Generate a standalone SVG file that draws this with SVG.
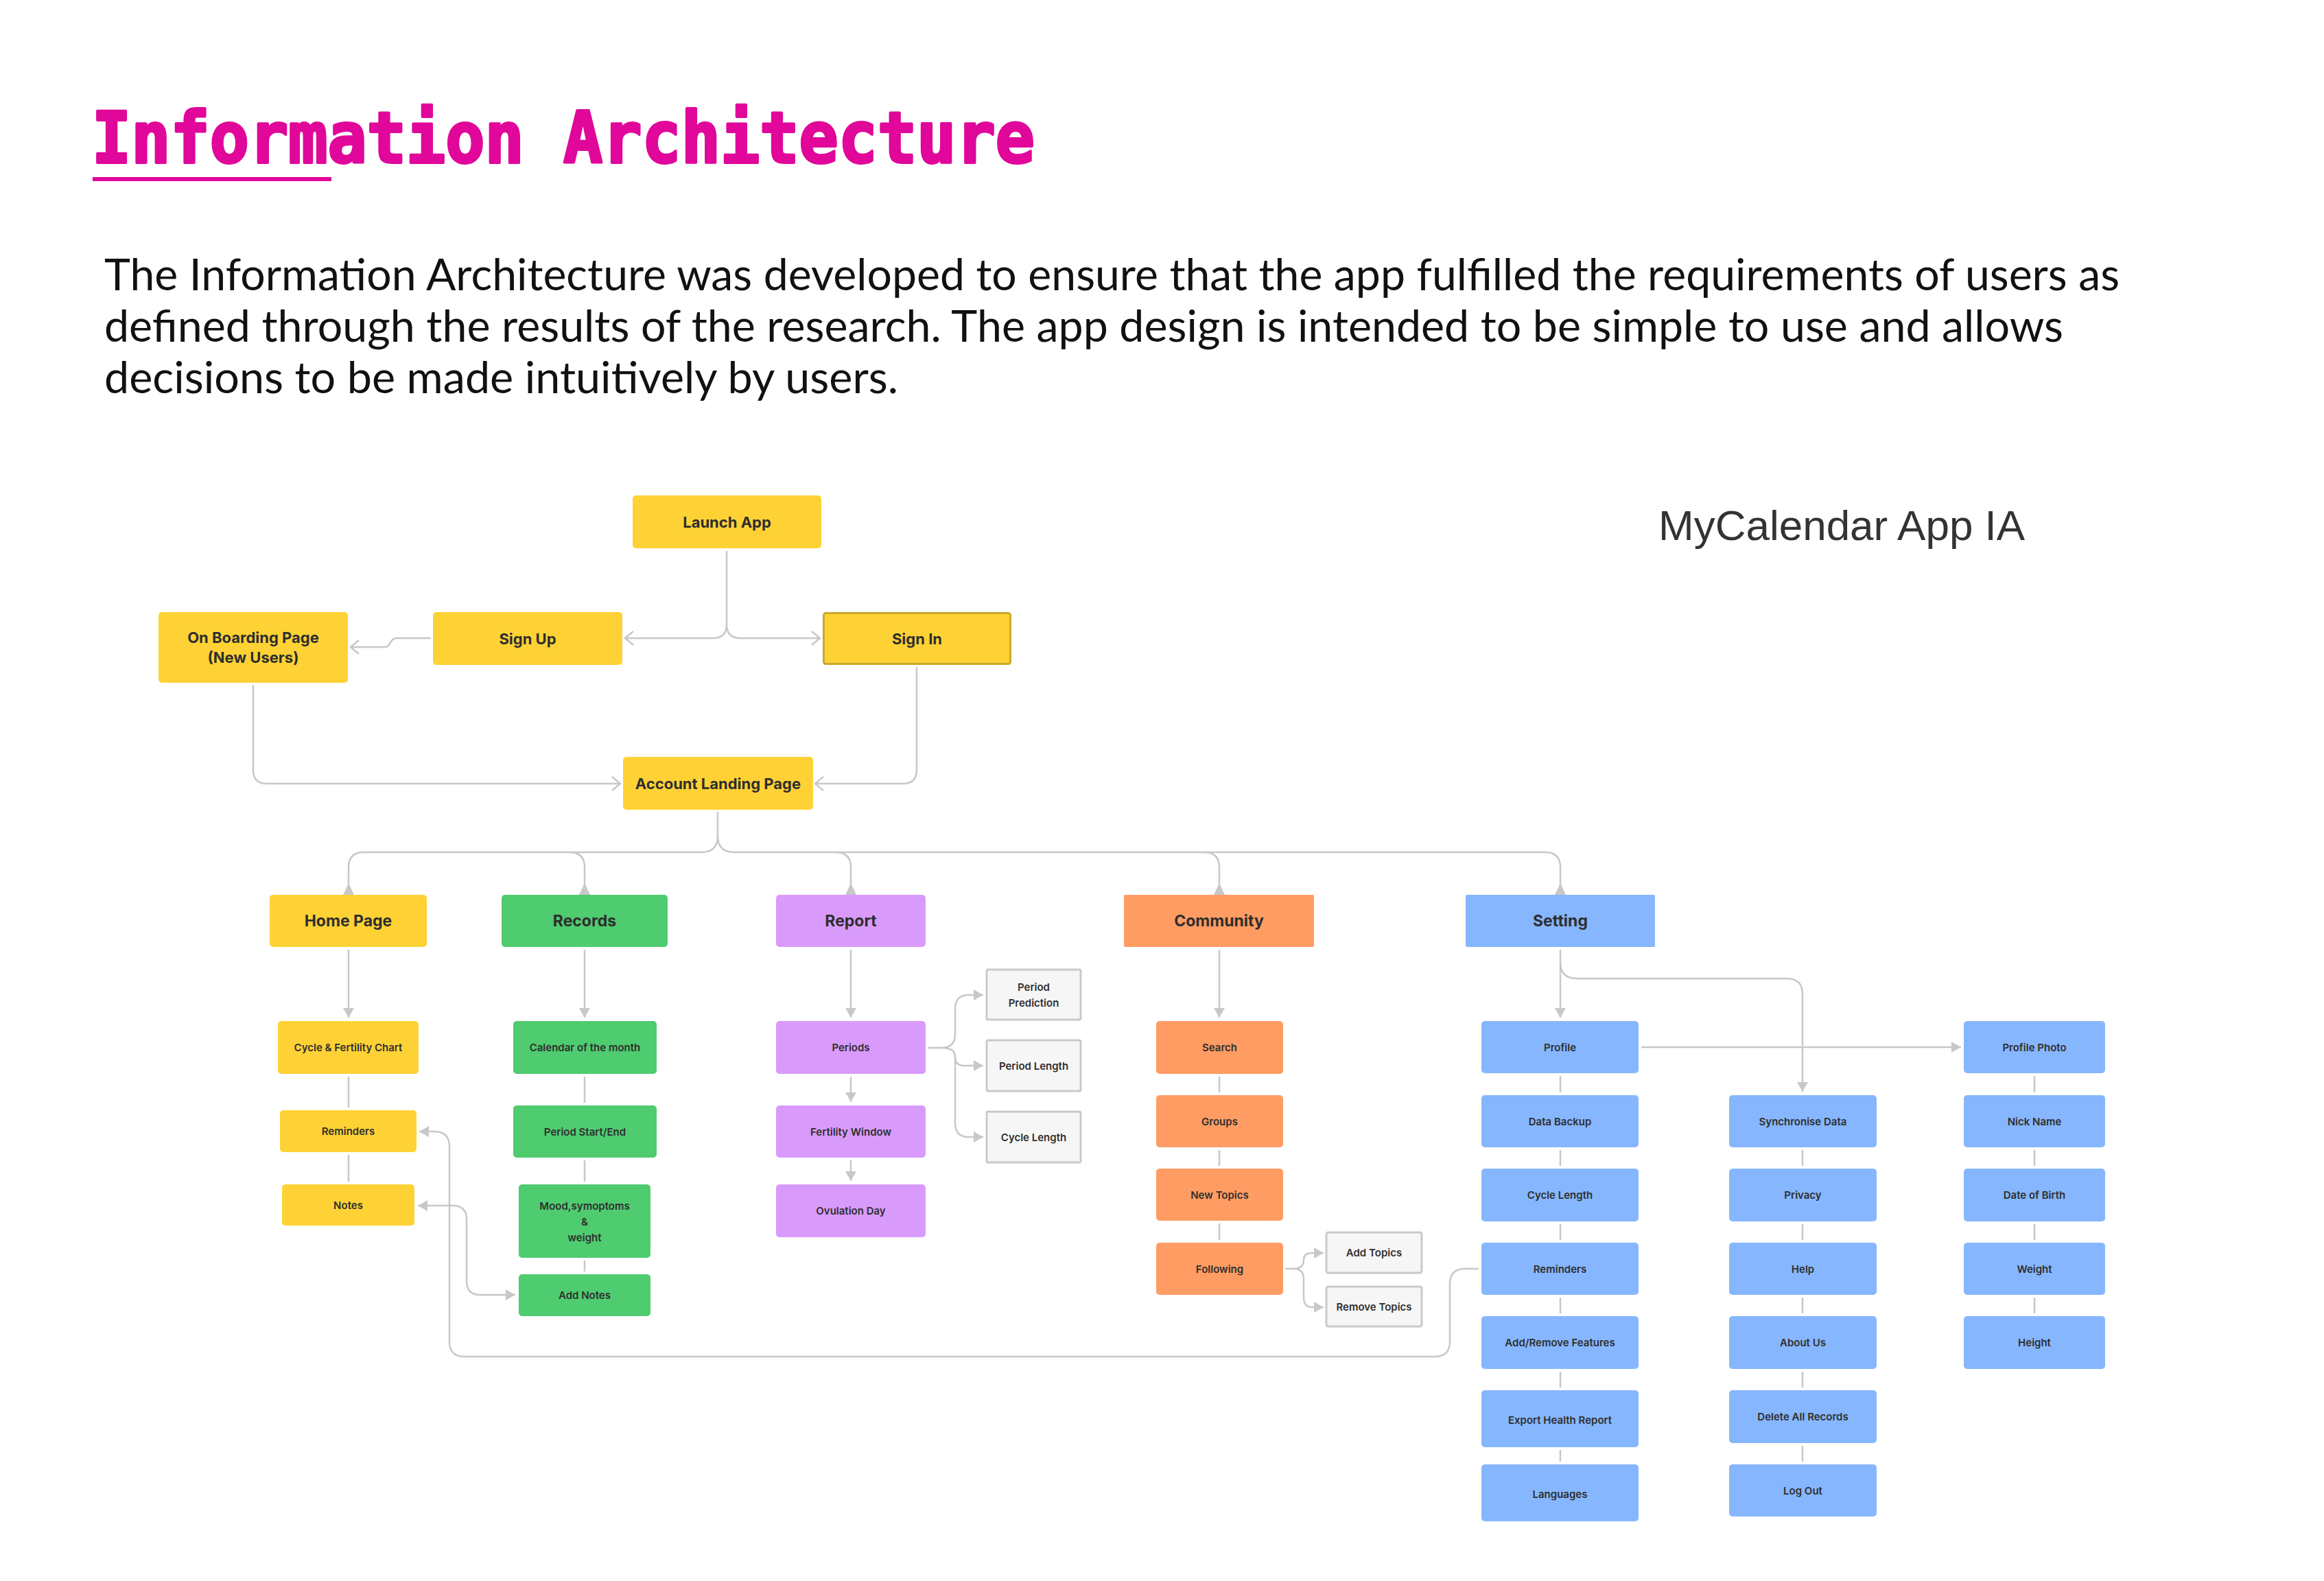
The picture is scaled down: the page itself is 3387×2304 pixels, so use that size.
<svg xmlns="http://www.w3.org/2000/svg" width="3387" height="2304" viewBox="0 0 3387 2304">
<defs>
<style>
.y{fill:#FED235}.g{fill:#4FCB70}.p{fill:#D99BFB}.o{fill:#FF9C63}.b{fill:#86B6FD}.w{fill:#F6F6F6;stroke:#C9C9C9;stroke-width:3}
.si{fill:#FED235;stroke:#C9A92D;stroke-width:3}
.t{font-family:Inter,"Liberation Sans",sans-serif;fill:#2E2E2E;text-anchor:middle;dominant-baseline:central}
.lg{font-size:23px;font-weight:700}.md{font-size:22px;font-weight:700}.sm{font-size:15px;font-weight:600}
.c{fill:none;stroke:#C8C8C8;stroke-width:2.5}
.ah{fill:#C8C8C8}
</style>
<marker id="tri" viewBox="0 0 14 16" refX="14" refY="8" markerWidth="14" markerHeight="16" markerUnits="userSpaceOnUse" orient="auto-start-reverse"><path d="M0,0 L14,8 L0,16 Z" fill="#C8C8C8"/></marker>
<marker id="chev" viewBox="-2 -2 16 24" refX="12" refY="10" markerWidth="16" markerHeight="24" markerUnits="userSpaceOnUse" orient="auto"><path d="M0,0 L12,10 L0,20" fill="none" stroke="#C8C8C8" stroke-width="2.5"/></marker>
</defs>
<rect width="3387" height="2304" fill="#FFFFFF"/>

<g id="header">
<text x="134" y="237" font-family="'DejaVu Sans Mono',monospace" font-weight="700" font-size="103" fill="#E0079A" stroke="#E0079A" stroke-width="4" stroke-linejoin="round" textLength="1374" lengthAdjust="spacingAndGlyphs">Information Architecture</text>
<rect x="135" y="258" width="348" height="6" fill="#E0079A"/>
<g font-family="Lato,'Noto Sans',sans-serif" font-size="64" fill="#111111">
<text x="152" y="423" textLength="2937" lengthAdjust="spacingAndGlyphs">The Information Architecture was developed to ensure that the app fulfilled the requirements of users as</text>
<text x="152" y="498" textLength="2855" lengthAdjust="spacingAndGlyphs">defined through the results of the research. The app design is intended to be simple to use and allows</text>
<text x="152" y="573" textLength="1157" lengthAdjust="spacingAndGlyphs">decisions to be made intuitively by users.</text>
</g>
<text x="2417" y="787" font-family="'Liberation Sans',Arial,sans-serif" font-size="62" fill="#333333">MyCalendar App IA</text>
</g>

<g id="connectors">
<path class="c" marker-end="url(#chev)" d="M1059 803 V910 Q1059 930 1039 930 H911"/>
<path class="c" marker-end="url(#chev)" d="M1059 910 Q1059 930 1079 930 H1195"/>
<path class="c" marker-end="url(#chev)" d="M628 930 H578 C568 930 570 943 560 943 H511"/>
<path class="c" marker-end="url(#chev)" d="M369 998 V1122 Q369 1142 389 1142 H904"/>
<path class="c" marker-end="url(#chev)" d="M1336 972 V1122 Q1336 1142 1316 1142 H1188"/>

<path class="c" d="M1046 1183 V1218 Q1046 1242 1022 1242 H530 Q508 1242 508 1264 V1292"/>
<path class="c" d="M1046 1218 Q1046 1242 1070 1242 H2252 Q2274 1242 2274 1264 V1292"/>
<path class="c" d="M830 1242 Q852 1242 852 1264 V1292"/>
<path class="c" d="M1218 1242 Q1240 1242 1240 1264 V1292"/>
<path class="c" d="M1755 1242 Q1777 1242 1777 1264 V1292"/>
<polygon class="ah" points="500,1304 516,1304 508,1287"/>
<polygon class="ah" points="844,1304 860,1304 852,1287"/>
<polygon class="ah" points="1232,1304 1248,1304 1240,1287"/>
<polygon class="ah" points="1769,1304 1785,1304 1777,1287"/>
<polygon class="ah" points="2266,1304 2282,1304 2274,1287"/>

<path class="c" marker-end="url(#tri)" d="M508 1384 V1483"/>
<path class="c" marker-end="url(#tri)" d="M852 1384 V1483"/>
<path class="c" marker-end="url(#tri)" d="M1240 1384 V1483"/>
<path class="c" marker-end="url(#tri)" d="M1240 1569 V1606"/>
<path class="c" marker-end="url(#tri)" d="M1240 1691 V1721"/>
<path class="c" marker-end="url(#tri)" d="M1777 1384 V1483"/>
<path class="c" marker-end="url(#tri)" d="M2274 1384 V1483"/>
<path class="c" marker-end="url(#tri)" d="M2274 1402 Q2274 1426 2298 1426 H2604 Q2627 1426 2627 1449 V1591"/>
<path class="c" marker-end="url(#tri)" d="M2392 1526 H2858"/>

<path class="c" marker-end="url(#tri)" d="M1352 1527 H1372 Q1392 1527 1392 1507 V1470 Q1392 1450 1412 1450 H1433"/>
<path class="c" marker-end="url(#tri)" d="M1372 1527 Q1392 1527 1392 1540 Q1392 1553 1405 1553 H1433"/>
<path class="c" marker-end="url(#tri)" d="M1392 1540 V1637 Q1392 1657 1412 1657 H1433"/>

<path class="c" marker-end="url(#tri)" d="M1873 1849 H1885 Q1900 1849 1900 1836 Q1900 1826 1912 1826 H1929"/>
<path class="c" marker-end="url(#tri)" d="M1885 1849 Q1900 1849 1900 1864 V1890 Q1900 1905 1912 1905 H1929"/>

<path class="c" marker-end="url(#tri)" d="M2155 1849 H2135 Q2113 1849 2113 1871 V1955 Q2113 1977 2091 1977 H677 Q655 1977 655 1955 V1671 Q655 1649 633 1649 H611"/>
<path class="c" marker-start="url(#tri)" marker-end="url(#tri)" d="M609 1757 H660 Q680 1757 680 1777 V1867 Q680 1887 700 1887 H751"/>

<path class="c" d="M508 1569 V1614 M508 1683 V1722"/>
<path class="c" d="M852 1569 V1607 M852 1691 V1722 M852 1837 V1853"/>
<path class="c" d="M1777 1569 V1592 M1777 1676 V1699 M1777 1783 V1807"/>
<path class="c" d="M2274 1568 V1592 M2274 1676 V1699 M2274 1784 V1807 M2274 1891 V1914 M2274 1999 V2022 M2274 2113 V2130"/>
<path class="c" d="M2627 1676 V1699 M2627 1784 V1807 M2627 1891 V1914 M2627 1999 V2022 M2627 2107 V2130"/>
<path class="c" d="M2965 1568 V1592 M2965 1676 V1699 M2965 1784 V1807 M2965 1891 V1914"/>
</g>

<g id="launch-app"><rect class="y" x="922" y="722" width="275" height="77" rx="5"/><text class="t md" x="1059.5" y="760.5">Launch App</text></g>
<g id="sign-up"><rect class="y" x="631" y="892" width="276" height="77" rx="5"/><text class="t md" x="769" y="930.5">Sign Up</text></g>
<g id="sign-in"><rect class="si" x="1200.5" y="893.5" width="272" height="74" rx="3"/><text class="t md" x="1336.5" y="930.5">Sign In</text></g>
<g id="on-boarding"><rect class="y" x="231" y="892" width="276" height="103" rx="5"/><text class="t md" x="369" y="929">On Boarding Page</text><text class="t md" x="369" y="958">(New Users)</text></g>
<g id="account-landing"><rect class="y" x="908" y="1103" width="277" height="77" rx="5"/><text class="t md" x="1046.5" y="1141.5">Account Landing Page</text></g>

<g id="home-page"><rect class="y" x="393" y="1304" width="229" height="76" rx="5"/><text class="t lg" x="507.5" y="1342">Home Page</text></g>
<g id="records"><rect class="g" x="731" y="1304" width="242" height="76" rx="5"/><text class="t lg" x="852" y="1342">Records</text></g>
<g id="report"><rect class="p" x="1131" y="1304" width="218" height="76" rx="5"/><text class="t lg" x="1240" y="1342">Report</text></g>
<g id="community"><rect class="o" x="1638" y="1304" width="277" height="76" rx="2"/><text class="t lg" x="1776.5" y="1342">Community</text></g>
<g id="setting"><rect class="b" x="2136" y="1304" width="276" height="76" rx="2"/><text class="t lg" x="2274" y="1342">Setting</text></g>

<g id="cycle-fertility-chart"><rect class="y" x="405" y="1488" width="205" height="77" rx="5"/><text class="t sm" x="507.5" y="1526.5">Cycle &amp; Fertility Chart</text></g>
<g id="home-reminders"><rect class="y" x="408" y="1618" width="199" height="61" rx="5"/><text class="t sm" x="507.5" y="1648.5">Reminders</text></g>
<g id="notes"><rect class="y" x="411" y="1726" width="193" height="60" rx="5"/><text class="t sm" x="507.5" y="1756">Notes</text></g>

<g id="calendar-month"><rect class="g" x="748" y="1488" width="209" height="77" rx="5"/><text class="t sm" x="852.5" y="1526.5">Calendar of the month</text></g>
<g id="period-start-end"><rect class="g" x="748" y="1611" width="209" height="76" rx="5"/><text class="t sm" x="852.5" y="1649">Period Start/End</text></g>
<g id="mood"><rect class="g" x="756" y="1726" width="192" height="107" rx="5"/><text class="t sm" x="852" y="1757">Mood,symoptoms</text><text class="t sm" x="852" y="1780">&amp;</text><text class="t sm" x="852" y="1803">weight</text></g>
<g id="add-notes"><rect class="g" x="756" y="1857" width="192" height="61" rx="5"/><text class="t sm" x="852" y="1887.5">Add Notes</text></g>

<g id="periods"><rect class="p" x="1131" y="1488" width="218" height="77" rx="5"/><text class="t sm" x="1240" y="1526.5">Periods</text></g>
<g id="fertility-window"><rect class="p" x="1131" y="1611" width="218" height="76" rx="5"/><text class="t sm" x="1240" y="1649">Fertility Window</text></g>
<g id="ovulation-day"><rect class="p" x="1131" y="1726" width="218" height="77" rx="5"/><text class="t sm" x="1240" y="1764.5">Ovulation Day</text></g>
<g id="period-prediction"><rect class="w" x="1438" y="1413" width="137" height="73" rx="2"/><text class="t sm" x="1506.5" y="1438">Period</text><text class="t sm" x="1506.5" y="1461">Prediction</text></g>
<g id="period-length"><rect class="w" x="1438" y="1516" width="137" height="74" rx="2"/><text class="t sm" x="1506.5" y="1553">Period Length</text></g>
<g id="report-cycle-length"><rect class="w" x="1438" y="1620" width="137" height="74" rx="2"/><text class="t sm" x="1506.5" y="1657">Cycle Length</text></g>

<g id="search"><rect class="o" x="1685" y="1488" width="185" height="77" rx="5"/><text class="t sm" x="1777.5" y="1526.5">Search</text></g>
<g id="groups"><rect class="o" x="1685" y="1596" width="185" height="76" rx="5"/><text class="t sm" x="1777.5" y="1634">Groups</text></g>
<g id="new-topics"><rect class="o" x="1685" y="1703" width="185" height="76" rx="5"/><text class="t sm" x="1777.5" y="1741">New Topics</text></g>
<g id="following"><rect class="o" x="1685" y="1811" width="185" height="76" rx="5"/><text class="t sm" x="1777.5" y="1849">Following</text></g>
<g id="add-topics"><rect class="w" x="1933" y="1796" width="139" height="59" rx="3"/><text class="t sm" x="2002.5" y="1825.5">Add Topics</text></g>
<g id="remove-topics"><rect class="w" x="1933" y="1875" width="139" height="58" rx="3"/><text class="t sm" x="2002.5" y="1904">Remove Topics</text></g>

<g id="profile"><rect class="b" x="2159" y="1488" width="229" height="76" rx="5"/><text class="t sm" x="2273.5" y="1526">Profile</text></g>
<g id="data-backup"><rect class="b" x="2159" y="1596" width="229" height="76" rx="5"/><text class="t sm" x="2273.5" y="1634">Data Backup</text></g>
<g id="setting-cycle-length"><rect class="b" x="2159" y="1703" width="229" height="77" rx="5"/><text class="t sm" x="2273.5" y="1741.5">Cycle Length</text></g>
<g id="setting-reminders"><rect class="b" x="2159" y="1811" width="229" height="76" rx="5"/><text class="t sm" x="2273.5" y="1849">Reminders</text></g>
<g id="add-remove-features"><rect class="b" x="2159" y="1918" width="229" height="77" rx="5"/><text class="t sm" x="2273.5" y="1956.5">Add/Remove Features</text></g>
<g id="export-health-report"><rect class="b" x="2159" y="2026" width="229" height="83" rx="5"/><text class="t sm" x="2273.5" y="2069">Export Health Report</text></g>
<g id="languages"><rect class="b" x="2159" y="2134" width="229" height="83" rx="5"/><text class="t sm" x="2273.5" y="2177">Languages</text></g>

<g id="synchronise-data"><rect class="b" x="2520" y="1596" width="215" height="76" rx="5"/><text class="t sm" x="2627.5" y="1634">Synchronise Data</text></g>
<g id="privacy"><rect class="b" x="2520" y="1703" width="215" height="77" rx="5"/><text class="t sm" x="2627.5" y="1741.5">Privacy</text></g>
<g id="help"><rect class="b" x="2520" y="1811" width="215" height="76" rx="5"/><text class="t sm" x="2627.5" y="1849">Help</text></g>
<g id="about-us"><rect class="b" x="2520" y="1918" width="215" height="77" rx="5"/><text class="t sm" x="2627.5" y="1956.5">About Us</text></g>
<g id="delete-all-records"><rect class="b" x="2520" y="2026" width="215" height="77" rx="5"/><text class="t sm" x="2627.5" y="2064.5">Delete All Records</text></g>
<g id="log-out"><rect class="b" x="2520" y="2134" width="215" height="76" rx="5"/><text class="t sm" x="2627.5" y="2172">Log Out</text></g>

<g id="profile-photo"><rect class="b" x="2862" y="1488" width="206" height="76" rx="5"/><text class="t sm" x="2965" y="1526">Profile Photo</text></g>
<g id="nick-name"><rect class="b" x="2862" y="1596" width="206" height="76" rx="5"/><text class="t sm" x="2965" y="1634">Nick Name</text></g>
<g id="date-of-birth"><rect class="b" x="2862" y="1703" width="206" height="77" rx="5"/><text class="t sm" x="2965" y="1741.5">Date of Birth</text></g>
<g id="weight"><rect class="b" x="2862" y="1811" width="206" height="76" rx="5"/><text class="t sm" x="2965" y="1849">Weight</text></g>
<g id="height"><rect class="b" x="2862" y="1918" width="206" height="77" rx="5"/><text class="t sm" x="2965" y="1956.5">Height</text></g>
</svg>
